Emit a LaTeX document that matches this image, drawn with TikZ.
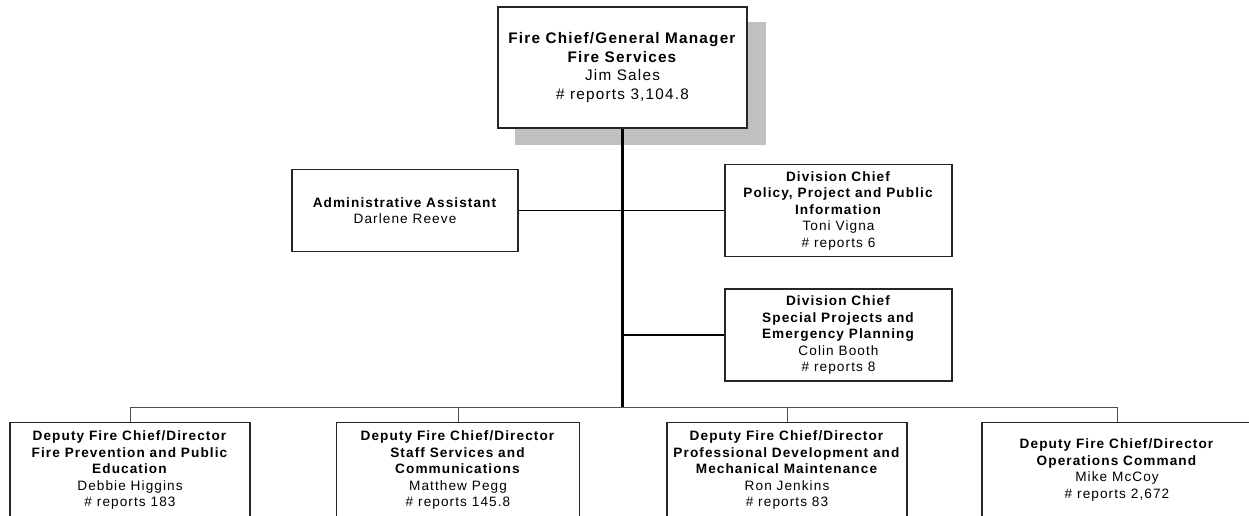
\documentclass[tikz,border=0pt]{standalone}
\usepackage{fontspec}
\setmainfont{Liberation Sans}
\newfontfamily\orgfont[LetterSpace=8]{Liberation Sans}
\usetikzlibrary{calc}
\definecolor{shadowgray}{HTML}{C0C0C0}
\definecolor{busgray}{HTML}{505050}
\tikzset{
  unit/.style={draw=black!85, line width=1.3pt, fill=white, align=center,
    inner sep=2pt, font=\orgfont\fontsize{13.6}{16.5}\selectfont},
  chiefbox/.style={unit, minimum width=249pt, minimum height=121pt,
    font=\orgfont\fontsize{15.3}{18.5}\selectfont},
  adminbox/.style={unit, minimum width=226pt, minimum height=82pt},
  divbox/.style={unit, minimum width=227pt, minimum height=92pt},
  depbox/.style={unit, minimum height=95pt},
  trunk/.style={line width=2.4pt, black},
  link/.style={line width=1.2pt, black},
  bus/.style={line width=1pt, busgray}
}
\begin{document}
\begin{tikzpicture}[x=1pt,y=-1pt]
			%%%%% START %%%%%
			\useasboundingbox (0,0) rectangle (1249,516);
			
			% shadow behind the chief
			\fill[shadowgray] (515,22) rectangle (766,145);
			
			\node[chiefbox] (chief) at (622.5,67.5)
			  {\textbf{Fire Chief/General Manager}\\\textbf{Fire Services}\\Jim Sales\\\# reports 3,104.8};
			
			\node[adminbox] (admin) at (405,210.5)
			  {\textbf{Administrative Assistant}\\Darlene Reeve};
			\node[divbox] (policy) at (838.5,210.5)
			  {\textbf{Division Chief}\\\textbf{Policy, Project and Public}\\\textbf{Information}\\Toni Vigna\\\# reports 6};
			\node[divbox] (special) at (838.5,335)
			  {\textbf{Division Chief}\\\textbf{Special Projects and}\\\textbf{Emergency Planning}\\Colin Booth\\\# reports 8};
			
			\node[depbox, minimum width=240pt] (prevent) at (130,470)
			  {\textbf{Deputy Fire Chief/Director}\\\textbf{Fire Prevention and Public}\\\textbf{Education}\\Debbie Higgins\\\# reports 183};
			\node[depbox, minimum width=243pt] (staff) at (458,470)
			  {\textbf{Deputy Fire Chief/Director}\\\textbf{Staff Services and}\\\textbf{Communications}\\Matthew Pegg\\\# reports 145.8};
			\node[depbox, minimum width=240pt] (profdev) at (787,470)
			  {\textbf{Deputy Fire Chief/Director}\\\textbf{Professional Development and}\\\textbf{Mechanical Maintenance}\\Ron Jenkins\\\# reports 83};
			\node[depbox, minimum width=270pt] (ops) at (1117,470)
			  {\textbf{Deputy Fire Chief/Director}\\\textbf{Operations Command}\\Mike McCoy\\\# reports 2,672};
			
			\coordinate (busmid) at (622.5,407);
			
			% reporting lines
			\draw[link] (admin.east) -- (policy.west);
			\draw[link] (special.west) -- (special.west -| busmid);
			\draw[bus] (prevent.north) -- (prevent.north |- busmid) -- (ops.north |- busmid) -- (ops.north);
			\draw[bus] (staff.north) -- (staff.north |- busmid);
			\draw[bus] (profdev.north) -- (profdev.north |- busmid);
			\draw[trunk] (chief.south) -- (busmid);
			
			%%%%% END %%%%%
\end{tikzpicture}
\end{document}
